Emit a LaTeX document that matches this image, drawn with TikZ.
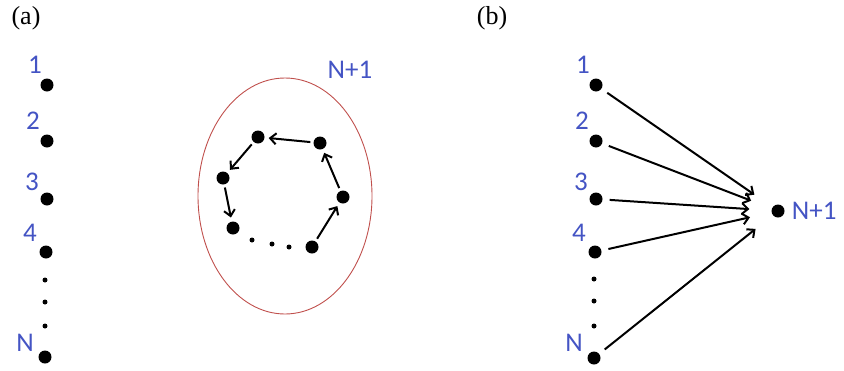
\documentclass[tikz,border=0pt]{standalone}
\usepackage{fontspec}
\setmainfont{Liberation Serif}
\newfontfamily\labelfont{Carlito}
\definecolor{NodeBlue}{RGB}{68, 84, 196}
\definecolor{RingRed}{RGB}{192, 80, 77}
\usetikzlibrary{shapes.geometric, arrows.meta, positioning}

\begin{document}
\begin{tikzpicture}[
                x=1pt, y=-1pt,
                dot/.style={circle, fill=black, inner sep=0pt, minimum size=13pt},
                smalldot/.style={circle, fill=black, inner sep=0pt, minimum size=5pt},
                lbl/.style={text=NodeBlue, inner sep=0pt, font=\labelfont\fontsize{27}{32}\selectfont},
                panel/.style={inner sep=0pt, font=\fontsize{26}{30}\selectfont},
                ringbox/.style={ellipse, draw=RingRed, line width=0.9pt, minimum width=174pt, minimum height=236pt},
                arrow/.style={line width=2pt,-{Straight Barb[length=6pt, width=11pt]},draw=black},
                cyc/.style={arrow, shorten <=3pt, shorten >=4pt},
                fan/.style={arrow, shorten <=7pt, shorten >=22pt}
            ]
                \useasboundingbox (0,0) rectangle (844,370);

                % (a) separate nodes and the ring
                \node (capa) [panel] at (26,18) {(a)};

                \node (a1) [dot] at (47,85) {};
                \node (a2) [dot] at (47,141) {};
                \node (a3) [dot] at (47,199) {};
                \node (a4) [dot] at (46,252) {};
                \node (aN) [dot] at (45,357) {};
                \node (ad1) [smalldot] at (45,280) {};
                \node (ad2) [smalldot] at (45,302) {};
                \node (ad3) [smalldot] at (45,326) {};

                \node (ta1) [lbl] at (35,65) {1};
                \node (ta2) [lbl] at (33,121) {2};
                \node (ta3) [lbl] at (32,182) {3};
                \node (ta4) [lbl] at (30,233) {4};
                \node (taN) [lbl] at (25,343) {N};

                \node (ring) [ringbox] at (285,196) {};
                \node (tring) [lbl] at (350,70) {N+1};

                \node (c1) [dot] at (320,143) {};
                \node (c2) [dot] at (258,137) {};
                \node (c3) [dot] at (223,178) {};
                \node (c4) [dot] at (233,228) {};
                \node (c5) [dot] at (312,247) {};
                \node (c6) [dot] at (343,197) {};
                \node (cd1) [smalldot] at (252,240) {};
                \node (cd2) [smalldot] at (272,244) {};
                \node (cd3) [smalldot] at (289,247) {};

                \draw [cyc] (c1) -- (c2);
                \draw [cyc] (c2) -- (c3);
                \draw [cyc] (c3) -- (c4);
                \draw [cyc] (c5) -- (c6);
                \draw [cyc] (c6) -- (c1);

                % (b) all nodes into N+1
                \node (capb) [panel] at (492,18) {(b)};

                \node (b1) [dot] at (596,85) {};
                \node (b2) [dot] at (596,141) {};
                \node (b3) [dot] at (596,199) {};
                \node (b4) [dot] at (595,252) {};
                \node (bN) [dot] at (594,358) {};
                \node (bd1) [smalldot] at (594,279) {};
                \node (bd2) [smalldot] at (594,301) {};
                \node (bd3) [smalldot] at (594,326) {};

                \node (tb1) [lbl] at (583,65) {1};
                \node (tb2) [lbl] at (582,121) {2};
                \node (tb3) [lbl] at (581,182) {3};
                \node (tb4) [lbl] at (579,233) {4};
                \node (tbN) [lbl] at (574,343) {N};

                \node (bt) [dot] at (778,211) {};
                \node (tbt) [lbl, right=7pt of bt] {N+1};

                \draw [fan] (b1) -- (bt);
                \draw [fan] (b2) -- (bt);
                \draw [fan] (b3) -- (bt);
                \draw [fan] (b4) -- (bt);
                \draw [fan] (bN) -- (bt);
            \end{tikzpicture}
\end{document}
